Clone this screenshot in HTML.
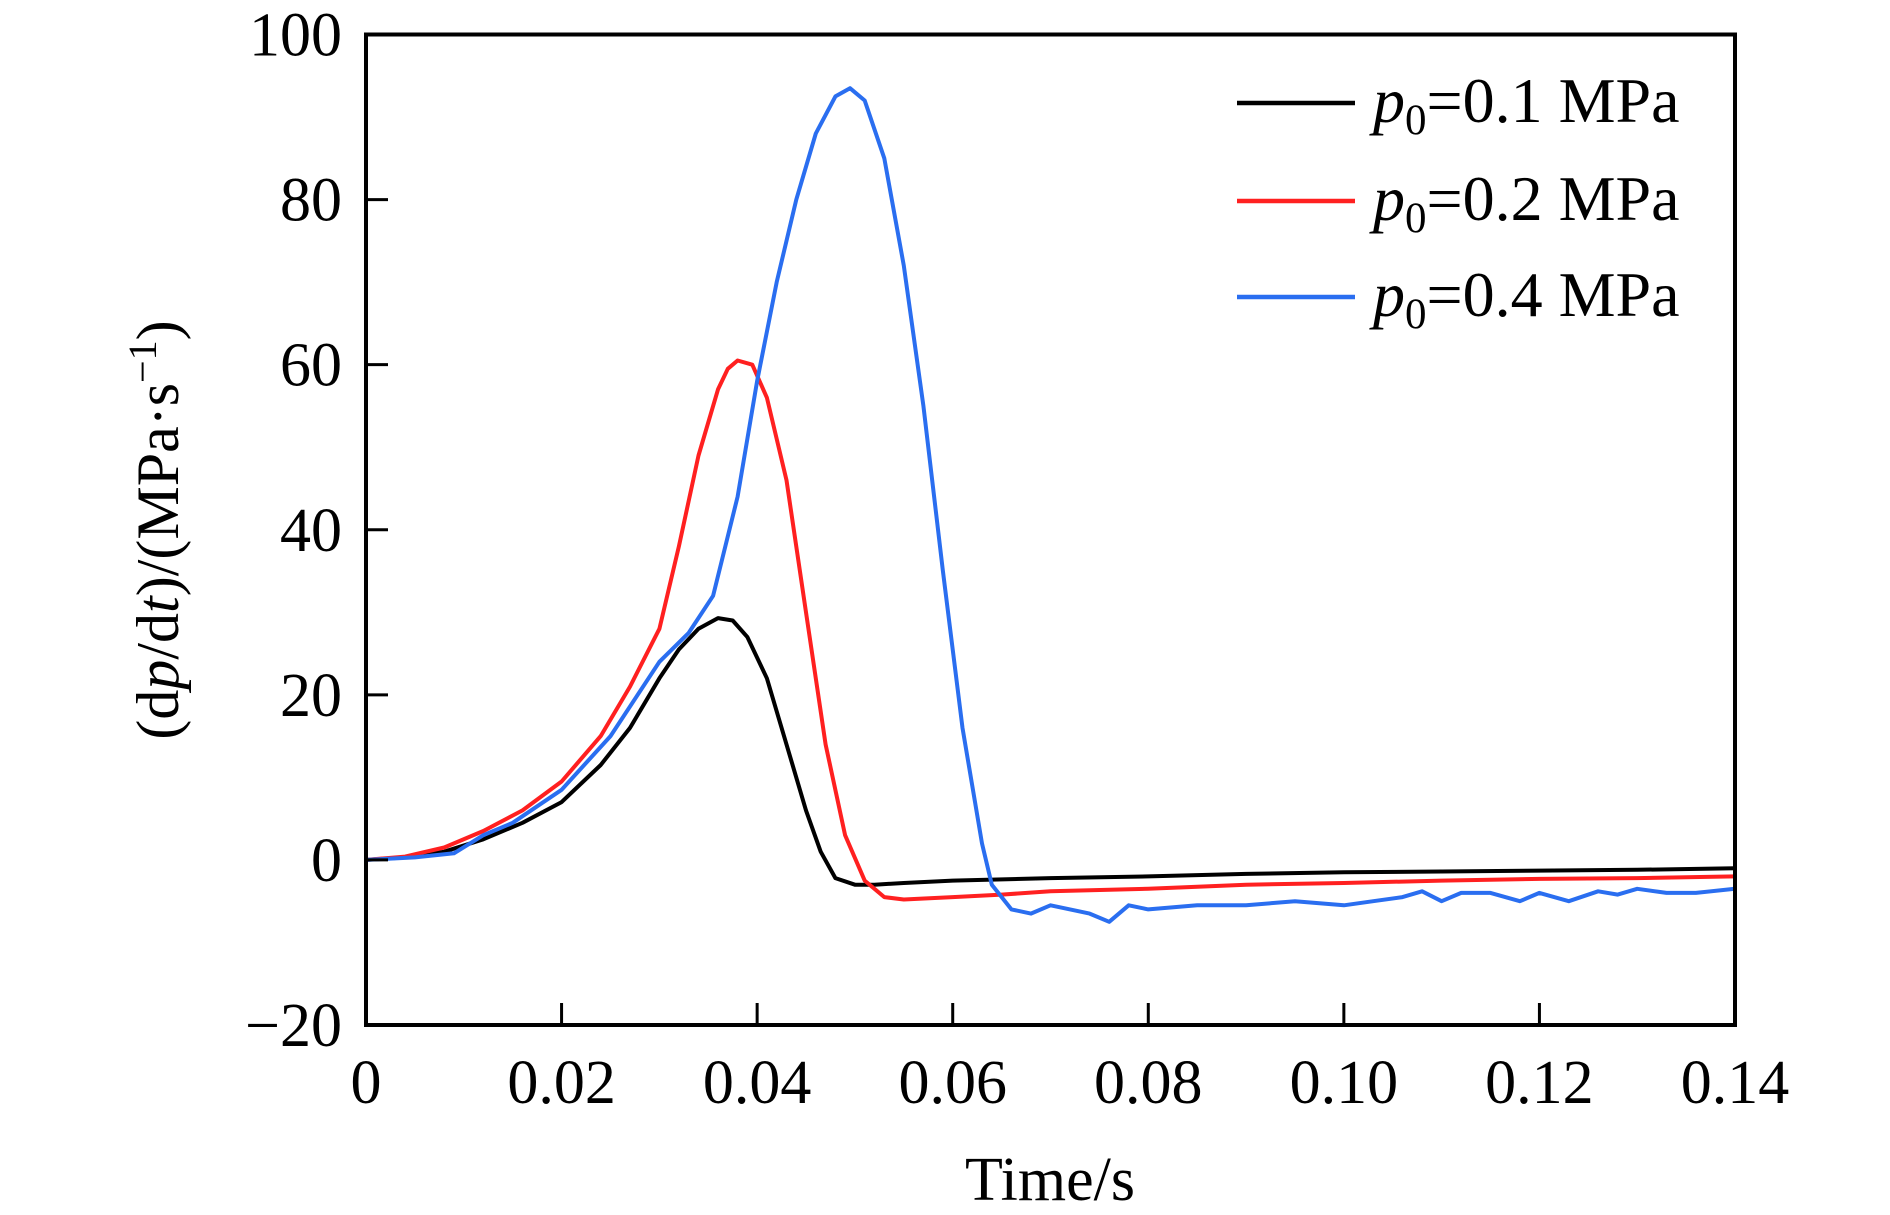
<!DOCTYPE html>
<html><head><meta charset="utf-8"><style>
html,body{margin:0;padding:0;background:#fff;}
svg{display:block;font-family:"Liberation Serif",serif;}
</style></head><body>
<svg id="chart" width="1890" height="1215" viewBox="0 0 1890 1215" xmlns="http://www.w3.org/2000/svg">
<g id="marks"></g>
<rect x="366" y="34.5" width="1369" height="990.5" fill="none" stroke="#000" stroke-width="4"/>
<g id="axes"></g>
<text transform="translate(178,530) rotate(-90)" text-anchor="middle" font-size="60">(d<tspan font-style="italic">p</tspan>/d<tspan font-style="italic">t</tspan>)/(MPa·s<tspan baseline-shift="super" font-size="40">−1</tspan>)</text>
<text x="1050" y="1200" text-anchor="middle" font-size="62">Time/s</text>
<g>
<line x1="1237" y1="103" x2="1355" y2="103" stroke="#000" stroke-width="4.5"/>
<text x="1373" y="122" font-size="64"><tspan font-style="italic">p</tspan><tspan font-size="43" dy="12">0</tspan><tspan dy="-12">=0.1 MPa</tspan></text>
<line x1="1237" y1="201" x2="1355" y2="201" stroke="#ff2020" stroke-width="4.5"/>
<text x="1373" y="220" font-size="64"><tspan font-style="italic">p</tspan><tspan font-size="43" dy="12">0</tspan><tspan dy="-12">=0.2 MPa</tspan></text>
<line x1="1237" y1="297" x2="1355" y2="297" stroke="#2a6ef0" stroke-width="4.5"/>
<text x="1373" y="316" font-size="64"><tspan font-style="italic">p</tspan><tspan font-size="43" dy="12">0</tspan><tspan dy="-12">=0.4 MPa</tspan></text>
</g>
</svg>
<script>
const xTicks=[0,0.02,0.04,0.06,0.08,0.10,0.12,0.14];
const xTickLabels=["0","0.02","0.04","0.06","0.08","0.10","0.12","0.14"];
const yTicks=[-20,0,20,40,60,80,100];
const yTickLabels=["−20","0","20","40","60","80","100"];
const t1=[0,.004,.008,.012,.016,.02,.024,.027,.03,.032,.034,.036,.0375,.039,.041,.043,.045,.0465,.048,.05,.052,.055,.06,.07,.08,.09,.10,.11,.12,.13,.14];
const v1=[0,0.3,1,2.5,4.5,7,11.5,16,22,25.5,28,29.3,29,27,22,14,6,1,-2.2,-3,-3,-2.8,-2.5,-2.2,-2,-1.7,-1.5,-1.4,-1.3,-1.2,-1.0];
const t2=[0,.004,.008,.012,.016,.02,.024,.027,.03,.032,.034,.036,.037,.038,.0395,.041,.043,.045,.047,.049,.051,.053,.055,.06,.065,.07,.08,.09,.10,.11,.12,.13,.14];
const v2=[0,0.4,1.5,3.5,6,9.5,15,21,28,38,49,57,59.5,60.5,60,56,46,30,14,3,-2.5,-4.5,-4.8,-4.5,-4.2,-3.8,-3.5,-3,-2.8,-2.5,-2.3,-2.2,-2];
const t3=[0,.005,.009,.012,.015,.02,.025,.03,.033,.0355,.038,.04,.042,.044,.046,.048,.0495,.051,.053,.055,.057,.059,.061,.063,.064,.066,.068,.07,.072,.074,.076,.078,.08,.085,.09,.095,.10,.103,.106,.108,.11,.112,.115,.118,.12,.123,.126,.128,.13,.133,.136,.14];
const v3=[0,0.3,0.8,3,4.5,8.5,15,24,27.5,32,44,58,70,80,88,92.5,93.5,92,85,72,55,35,16,2,-3,-6,-6.5,-5.5,-6,-6.5,-7.5,-5.5,-6,-5.5,-5.5,-5,-5.5,-5,-4.5,-3.8,-5,-4,-4,-5,-4,-5,-3.8,-4.2,-3.5,-4,-4,-3.5];
const X0=366,X1=1735,Y0=1025,Y1=34.5;
const xs=v=>X0+(v-0)/0.14*(X1-X0);
const ys=v=>Y0-(v+20)/120*(Y0-Y1);
const NS="http://www.w3.org/2000/svg";
const axes=document.getElementById('axes');
const marks=document.getElementById('marks');
xTicks.forEach((v,i)=>{
  const x=xs(v);
  if(i>0&&i<xTicks.length-1){
    const l=document.createElementNS(NS,'line');
    
    
    l.setAttribute('x1',x);l.setAttribute('x2',x);l.setAttribute('y1',Y0);l.setAttribute('y2',Y0-22);
    l.setAttribute('stroke','#000');l.setAttribute('stroke-width','3');axes.appendChild(l);
  }
  const t=document.createElementNS(NS,'text');
  
  
  t.setAttribute('x',x);t.setAttribute('y',1103);t.setAttribute('text-anchor','middle');t.setAttribute('font-size','62');
  t.textContent=xTickLabels[i];axes.appendChild(t);
});
yTicks.forEach((v,i)=>{
  const y=ys(v);
  if(i>0&&i<yTicks.length-1){
    const l=document.createElementNS(NS,'line');
    
    
    l.setAttribute('x1',X0);l.setAttribute('x2',X0+22);l.setAttribute('y1',y);l.setAttribute('y2',y);
    l.setAttribute('stroke','#000');l.setAttribute('stroke-width','3');axes.appendChild(l);
  }
  const t=document.createElementNS(NS,'text');
  
  
  t.setAttribute('x',342);t.setAttribute('y',y+21);t.setAttribute('text-anchor','end');t.setAttribute('font-size','62');
  t.textContent=yTickLabels[i];axes.appendChild(t);
});
function draw(ts,vs,color,name){
  const p=document.createElementNS(NS,'path');
  
  
  p.setAttribute('d',ts.map((t,i)=>(i?'L':'M')+xs(t).toFixed(1)+','+ys(vs[i]).toFixed(1)).join(''));
  p.setAttribute('fill','none');p.setAttribute('stroke',color);p.setAttribute('stroke-width','4');p.setAttribute('stroke-linejoin','round');
  marks.appendChild(p);
}
draw(t1,v1,'#000','series-0.1mpa');
draw(t2,v2,'#ff2020','series-0.2mpa');
draw(t3,v3,'#2a6ef0','series-0.4mpa');
</script>
</body></html>
